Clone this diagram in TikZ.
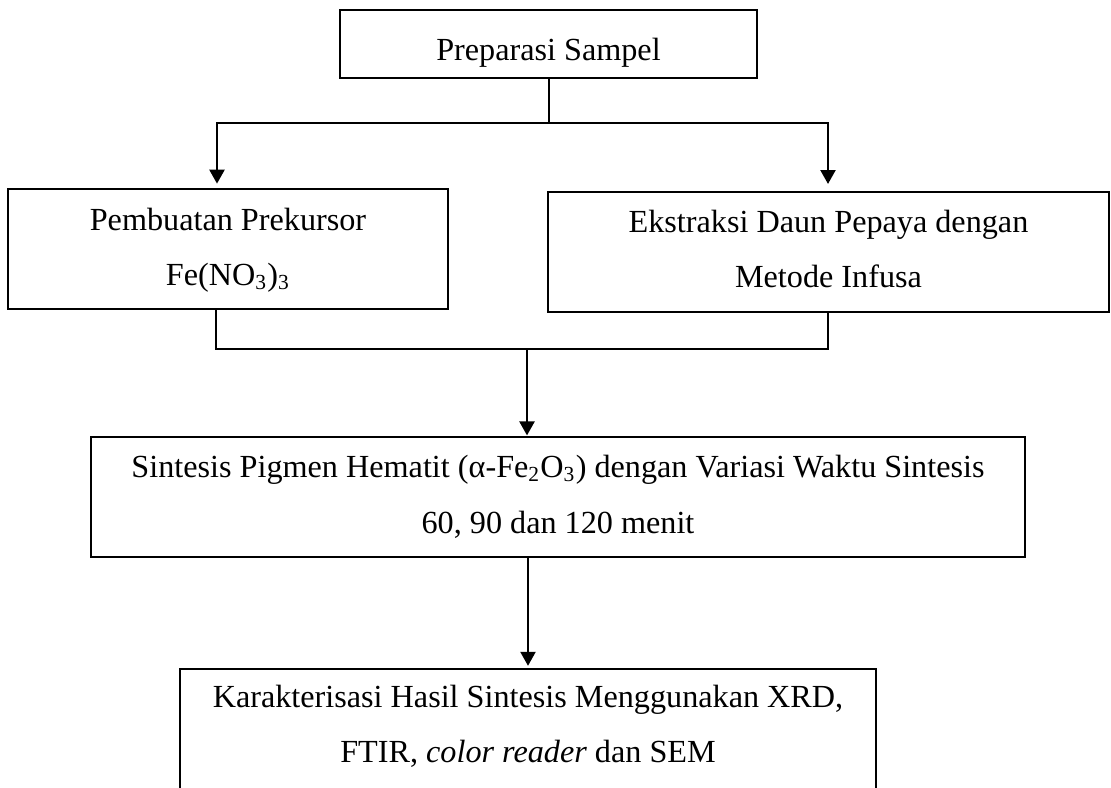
\documentclass[tikz,border=0pt]{standalone}
\usepackage{fontspec}
\setmainfont{Liberation Serif}
\usetikzlibrary{arrows.meta}
\begin{document}
\begin{tikzpicture}[x=0.3727pt,y=-0.3727pt,
  box/.style={draw, line width=0.45pt, inner sep=0pt, outer sep=0pt},
  txt/.style={anchor=base, inner sep=0pt, font=\fontsize{12}{14}\selectfont},
  conn/.style={line width=0.8pt},
  arr/.style={conn, -{Triangle[width=5.6pt,length=5.2pt]}}]
\useasboundingbox (0,0) rectangle (1111,787);
\clip (0,0) rectangle (1111,787);
\fill[white] (0,0) rectangle (1111,787);

% boxes
\node[box, minimum width={417*0.3727pt}, minimum height={68*0.3727pt}] (B1) at (548.5,44) {};
\node[box, minimum width={440*0.3727pt}, minimum height={120*0.3727pt}] (B2) at (228,249) {};
\node[box, minimum width={561*0.3727pt}, minimum height={120*0.3727pt}] (B3) at (828.5,252) {};
\node[box, minimum width={934*0.3727pt}, minimum height={120*0.3727pt}] (B4) at (558,497) {};
\node[box, minimum width={696*0.3727pt}, minimum height={120*0.3727pt}] (B5) at (528,729) {};

% texts
\node[txt] (B1a) at (548.5,60) {Preparasi Sampel};
\node[txt] (B2a) at (228,230) {Pembuatan Prekursor};
\node[txt] (B2b) at (228,285) {Fe(NO\textsubscript{3})\textsubscript{3}};
\node[txt] (B3a) at (828.5,232) {Ekstraksi Daun Pepaya dengan};
\node[txt] (B3b) at (828.5,287) {Metode Infusa};
\node[txt] (B4a) at (558,477) {Sintesis Pigmen Hematit (α-Fe\textsubscript{2}O\textsubscript{3}) dengan Variasi Waktu Sintesis};
\node[txt] (B4b) at (558,533) {60, 90 dan 120 menit};
\node[txt] (B5a) at (528,707) {Karakterisasi Hasil Sintesis Menggunakan XRD,};
\node[txt] (B5b) at (528,762) {FTIR, \textit{color reader} dan SEM};

% junctions
\coordinate (J1) at (549,123);
\coordinate (J1L) at (217,123);
\coordinate (J1R) at (828,123);
\coordinate (J2L) at (216,349);
\coordinate (J2R) at (828,349);
\coordinate (J2M) at (527,349);
\coordinate (J3) at (528,0);

% connectors
\draw[conn] (B1.south -| J1) -- (J1);
\draw[arr, shorten >=2pt] (J1) -| (J1L |- B2.north);
\draw[arr, shorten >=3pt] (J1) -| (J1R |- B3.north);
\draw[conn] (J2L |- B2.south) |- (J2M);
\draw[conn] (J2R |- B3.south) |- (J2M);
\draw[arr, shorten >=0.6pt] (J2M) -- (J2M |- B4.north);
\draw[arr, shorten >=1.2pt] (B4.south -| J3) -- (B5.north -| J3);
\end{tikzpicture}
\end{document}
